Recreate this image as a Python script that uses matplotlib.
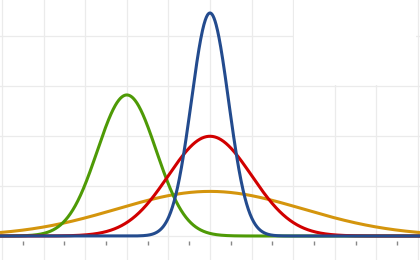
import numpy as np
import matplotlib
matplotlib.use("Agg")
import matplotlib.pyplot as plt
from matplotlib.patches import Rectangle

# Normal distribution parameters
means = [0.0, 0.0, 0.0, -2.0]
variances = [0.2, 1.0, 5.0, 0.5]
colors = ["#234b8e", "#d10000", "#d4950d", "#4e9a06"]
zorders = [5, 4, 2, 3]

x = np.linspace(-5.05, 5.05, 1200)

fig = plt.figure(figsize=(4.2, 2.6), dpi=100)
ax = fig.add_axes([0, 0, 1, 1])

for mu, var, c, z in zip(means, variances, colors, zorders):
    y = np.exp(-(x - mu) ** 2 / (2 * var)) / np.sqrt(2 * np.pi * var)
    ax.plot(x, y, color=c, lw=2.2, zorder=z, solid_capstyle="butt")

ax.set_xlim(-5.05, 5.05)
ax.set_ylim(-0.096, 0.944)

# grid
ax.set_xticks(np.arange(-4.5, 5.0, 1.0))
ax.set_xticks(np.arange(-5, 6, 1), minor=True)
ax.set_yticks(np.arange(0, 0.81, 0.2))
ax.grid(False)
ax.grid(True, which="minor", axis="x", color="#ebebeb", lw=0.9, zorder=0)
ax.grid(True, which="major", axis="y", color="#ebebeb", lw=0.9, zorder=0)
ax.set_axisbelow(True)

# white (legend) box in upper right
ax.add_patch(Rectangle((2.03, 0.6 + 0.004), 2.93, 0.5, facecolor="white",
                       edgecolor="none", zorder=1))

for s in ax.spines.values():
    s.set_visible(False)
ax.spines["bottom"].set_position(("data", -0.02))
ax.tick_params(axis="x", which="major", direction="out", length=3.0, width=1.0,
               color="#888888", labelbottom=False)
ax.tick_params(axis="x", which="minor", length=0, labelbottom=False)
ax.tick_params(axis="y", which="both", length=0, labelleft=False)

fig.savefig("out.png", dpi=100)
